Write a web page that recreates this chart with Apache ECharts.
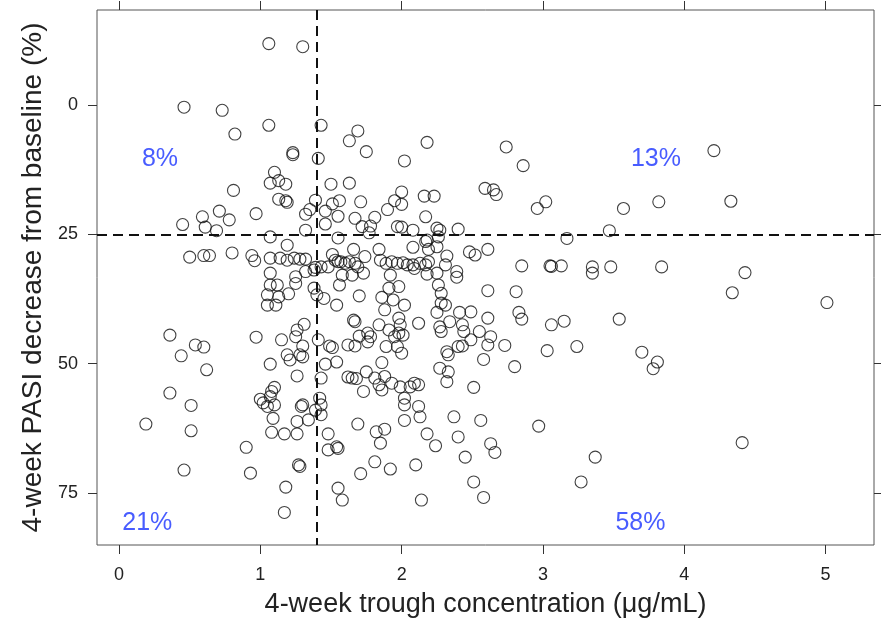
<!DOCTYPE html>
<html>
<head>
<meta charset="utf-8">
<script src="https://cdn.jsdelivr.net/npm/echarts@6/dist/echarts.min.js"></script>
<style>
  html, body { margin: 0; padding: 0; background: #fff; }
  #chart { width: 881px; height: 620px; }
</style>
</head>
<body>
<div id="chart"></div>
<script>
// Trough concentration (µg/mL) at week 4 for each patient
const troughConc = [
  0.46, 0.73, 0.82, 0.81, 0.59, 0.71, 0.78, 0.97, 0.45, 0.61, 0.69, 0.50, 0.60, 0.64, 0.80, 0.94, 0.96,
  0.36, 0.54, 0.60, 0.44, 0.62, 0.97, 0.36, 0.51, 0.19, 0.51, 0.90, 0.46, 0.93, 1.00, 1.02,
  1.06, 1.30, 1.06, 1.43, 1.69, 1.63, 1.75, 1.23, 1.23, 1.41, 1.10, 1.13, 1.07, 1.18, 1.50, 1.63,
  1.13, 1.18, 1.19, 1.39, 1.32, 1.35, 1.46, 1.51, 1.56, 1.71, 1.55, 1.46, 1.67, 1.72, 1.78, 1.81, 1.77,
  1.07, 1.32, 1.55, 1.19, 1.07, 1.14, 1.19, 1.24, 1.28, 1.32, 1.39, 1.38, 1.51, 1.53, 1.55, 1.57,
  1.60, 1.63, 1.67, 1.69, 1.74, 1.66, 1.85, 1.43, 1.48, 1.58, 1.07, 1.25,
  1.07, 1.12, 1.25, 1.05, 1.13, 1.20, 1.05, 1.11, 1.38, 1.40, 1.45, 1.54, 1.56, 1.65, 1.73, 1.32,
  1.70, 1.86, 1.66, 1.67, 1.84, 1.31, 1.26, 1.25, 1.15, 1.30, 1.19, 1.21, 1.28, 1.30, 1.07, 1.41,
  1.49, 1.51, 1.62, 1.67, 1.70, 1.76, 1.78, 1.76, 1.46, 1.54, 1.26, 1.43, 1.62, 1.65, 1.68, 1.75,
  1.73, 1.10, 1.08, 1.07, 1.05, 1.10, 1.29, 1.30, 1.42, 1.43, 1.39, 1.43, 1.09, 1.26, 1.34, 1.08,
  1.17, 1.26, 1.48, 1.69, 1.82, 1.85, 1.48, 1.54, 1.55, 1.27, 1.28, 1.81, 1.71, 1.18, 1.55, 1.58, 1.17,
  2.18, 2.02, 2.00, 1.95, 2.00, 1.90, 2.16, 2.23, 2.17, 2.59, 2.65, 2.67, 1.97, 2.00, 2.08, 2.25,
  2.27, 2.40, 2.26, 2.18, 2.17, 2.25, 2.08, 2.19, 1.84, 2.48, 2.52, 2.61, 2.32, 2.31, 2.39,
  1.89, 1.93, 1.97, 2.01, 2.04, 2.08, 2.09, 2.13, 2.17, 2.19, 2.25, 1.92, 2.18, 2.39,
  1.91, 1.98, 1.94, 2.02, 1.88, 2.26, 2.28, 2.28, 2.31, 2.25, 2.34, 2.41, 2.49, 2.61, 2.61, 2.12,
  1.98, 1.99, 1.98, 2.01, 1.95, 1.89, 1.97, 2.00, 1.91, 2.27, 2.28, 2.43, 2.44, 2.49, 2.55, 2.63,
  2.61, 2.40, 2.43, 2.32, 2.33, 2.58, 1.86, 2.27, 2.33, 2.32, 1.81, 1.88, 1.84, 1.86, 1.93, 1.99,
  2.06, 2.09, 2.12, 2.51, 2.02, 2.02, 2.12, 2.13, 2.02, 2.37, 2.56, 1.88, 2.18, 2.24, 2.40, 2.63,
  2.66, 2.45, 1.92, 2.10, 2.51, 2.58, 2.14,
  2.74, 2.86, 3.02, 2.96, 3.57, 3.82, 3.47, 3.17, 2.85, 3.05, 3.06, 3.13, 3.35, 3.35, 3.48, 3.84,
  2.81, 2.83, 2.85, 3.06, 3.15, 3.54, 2.73, 3.03, 3.24, 2.80, 3.70, 3.81, 3.78, 2.97, 3.37, 3.27,
  4.21, 4.33, 4.43, 4.34, 5.01, 4.41
];

// PASI decrease from baseline (%) at week 4, same patient order
const pasiDecrease = [
  0.4, 1.0, 5.6, 16.5, 21.6, 20.5, 22.2, 21.0, 23.1, 23.6, 24.3, 29.4, 29.1, 29.1, 28.6, 29.1, 30.1,
  44.5, 46.4, 46.8, 48.5, 51.2, 44.9, 55.7, 58.1, 61.7, 63.0, 66.2, 70.6, 71.2, 56.9, 57.6,
  -11.9, -11.3, 3.9, 3.9, 5.0, 6.9, 9.0, 9.2, 9.6, 10.3, 13.0, 14.6, 15.1, 15.3, 15.3, 15.1,
  18.2, 18.5, 18.8, 18.4, 21.1, 20.2, 20.5, 19.1, 18.5, 18.7, 21.5, 23.0, 21.9, 23.5, 23.4, 21.7, 24.7,
  25.5, 24.2, 25.7, 27.1, 29.6, 29.6, 30.0, 29.6, 29.8, 29.8, 31.4, 31.9, 28.9, 30.0, 30.3, 30.3,
  30.6, 30.3, 30.6, 31.3, 29.3, 27.9, 30.0, 31.3, 31.3, 32.9, 32.5, 33.2,
  34.8, 34.8, 34.5, 36.7, 37.1, 36.5, 38.7, 38.7, 35.4, 36.7, 37.4, 38.7, 34.8, 32.9, 32.5, 32.2,
  36.9, 37.2, 41.6, 41.9, 42.5, 42.4, 43.5, 44.8, 45.4, 46.6, 48.3, 49.3, 48.3, 48.7, 50.1, 45.4,
  46.6, 46.9, 46.4, 46.6, 44.7, 44.1, 44.8, 45.8, 50.1, 49.7, 52.4, 52.8, 52.6, 52.8, 52.9, 51.6,
  55.4, 54.6, 55.4, 56.4, 58.3, 58.0, 58.3, 58.0, 56.7, 58.0, 59.0, 59.9, 60.6, 61.2, 60.9, 63.3,
  63.6, 63.6, 63.6, 61.7, 63.2, 65.4, 66.7, 66.1, 66.4, 69.6, 69.9, 69.0, 71.3, 73.9, 74.1, 76.4, 78.8,
  7.2, 10.8, 16.8, 18.5, 19.2, 20.2, 17.6, 17.6, 21.6, 16.1, 16.4, 17.3, 23.5, 23.6, 24.2, 23.8,
  24.2, 24.0, 25.5, 26.1, 26.4, 27.4, 27.5, 27.9, 27.9, 28.4, 29.0, 27.9, 29.2, 30.9, 32.2,
  30.6, 30.3, 30.6, 30.5, 30.9, 30.9, 31.6, 30.6, 30.9, 30.3, 32.5, 32.9, 32.7, 33.3,
  35.4, 35.1, 37.7, 38.7, 39.6, 34.8, 36.4, 38.3, 38.7, 40.1, 41.9, 40.1, 40.0, 35.9, 41.2, 42.2,
  41.2, 42.5, 44.1, 44.5, 44.8, 46.7, 46.7, 48.0, 43.5, 42.9, 43.8, 42.5, 43.8, 45.4, 43.8, 44.8,
  46.4, 46.7, 46.6, 47.7, 48.3, 49.2, 49.8, 50.9, 51.6, 53.5, 52.8, 52.5, 54.1, 55.1, 53.8, 54.5,
  54.5, 53.8, 54.1, 54.6, 56.7, 58.0, 58.3, 60.3, 61.0, 60.3, 61.0, 62.7, 63.6, 65.9, 64.2, 65.5,
  67.2, 68.1, 70.4, 69.6, 72.9, 75.9, 76.4,
  8.1, 11.7, 18.7, 20.0, 20.0, 18.7, 24.3, 25.8, 31.1, 31.1, 31.2, 31.1, 31.3, 32.5, 31.3, 31.3,
  36.1, 40.1, 41.4, 42.5, 41.8, 41.4, 46.5, 47.5, 46.7, 50.6, 47.8, 49.7, 51.0, 62.1, 68.1, 72.9,
  8.8, 18.6, 32.4, 36.3, 38.2, 65.3
];

// Reference cut-offs drawn as dashed lines
const concCutoff = 1.4;
const pasiCutoff = 25;

// Axis ticks
const xTicks = [0, 1, 2, 3, 4, 5];
const yTicks = [0, 25, 50, 75];

// Share of patients in each quadrant, with the place each label sits (data units)
const quadrantText = ['8%', '13%', '21%', '58%'];
const quadrantConc = [0.29, 3.80, 0.20, 3.69];
const quadrantPasi = [10.4, 10.4, 80.8, 80.8];

const points = troughConc.map((c, i) => [c, pasiDecrease[i]]);
const labelPoints = quadrantText.map((t, i) => ({ value: [quadrantConc[i], quadrantPasi[i]], name: t }));

const FONT = '"Liberation Sans", Arial, sans-serif';
const xMin = -0.156, xMax = 5.343;
const yMin = -18.4, yMax = 85.1;

const chart = echarts.init(document.getElementById('chart'), null, { renderer: 'canvas' });

const tickStyle = { show: true, length: 9, lineStyle: { color: '#333', width: 1 } };
const hiddenLine = { show: false, onZero: false };

chart.setOption({
  animation: false,
  backgroundColor: '#ffffff',
  grid: {
    left: 97, right: 7, top: 10, bottom: 75,
    containLabel: false, outerBoundsMode: 'none',
    show: true, borderColor: '#555', borderWidth: 1, backgroundColor: 'transparent'
  },
  xAxis: [
    {
      type: 'value', position: 'bottom', min: xMin, max: xMax,
      axisLine: hiddenLine,
      splitLine: { show: false },
      axisTick: Object.assign({ customValues: xTicks }, tickStyle),
      axisLabel: { customValues: xTicks, color: '#222', fontSize: 18, fontFamily: FONT, margin: 21 },
      name: '4-week trough concentration (\u03bcg/mL)',
      nameLocation: 'middle', nameGap: 46,
      nameTextStyle: { color: '#222', fontSize: 27, fontFamily: FONT }
    },
    {
      type: 'value', position: 'top', min: xMin, max: xMax,
      axisLine: hiddenLine, splitLine: { show: false },
      axisTick: Object.assign({ customValues: xTicks }, tickStyle),
      axisLabel: { show: false }
    }
  ],
  yAxis: [
    {
      type: 'value', position: 'left', inverse: true, min: yMin, max: yMax,
      axisLine: hiddenLine, splitLine: { show: false },
      axisTick: Object.assign({ customValues: yTicks }, tickStyle),
      axisLabel: { customValues: yTicks, color: '#222', fontSize: 18, fontFamily: FONT, margin: 19 },
      name: '4-week PASI decrease from baseline (%)',
      nameLocation: 'middle', nameGap: 41,
      nameTextStyle: { color: '#222', fontSize: 28, fontFamily: FONT }
    },
    {
      type: 'value', position: 'right', inverse: true, min: yMin, max: yMax,
      axisLine: hiddenLine, splitLine: { show: false },
      axisTick: Object.assign({ customValues: yTicks }, tickStyle),
      axisLabel: { show: false }
    }
  ],
  series: [
    {
      type: 'scatter',
      data: points,
      symbol: 'circle',
      symbolSize: 12,
      itemStyle: { color: 'rgba(0,0,0,0)', borderColor: '#111', borderWidth: 1.1 },
      markLine: {
        silent: true, symbol: 'none',
        label: { show: false },
        lineStyle: { color: '#111', type: [10, 6], width: 2 },
        data: [{ xAxis: concCutoff }, { yAxis: pasiCutoff }]
      }
    },
    {
      type: 'scatter',
      data: labelPoints,
      symbolSize: 0,
      silent: true,
      label: {
        show: true, position: 'inside', formatter: p => p.name,
        color: '#1a33ff', fontSize: 25, fontFamily: FONT
      }
    }
  ]
});
</script>
</body>
</html>
